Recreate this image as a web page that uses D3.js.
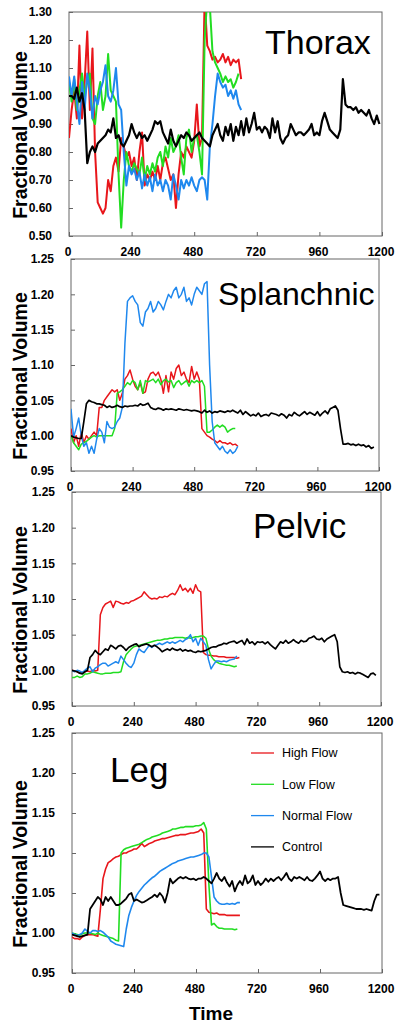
<!DOCTYPE html>
<html><head><meta charset="utf-8">
<script src="https://cdn.jsdelivr.net/npm/d3@7"></script>
<style>body{margin:0;background:#fff;} svg{display:block;}</style>
</head><body><svg id="c" width="400" height="1026"></svg>
<script>
// ---------- DATA ----------
const STEP = 10; // seconds between samples
const xTicks = [0, 240, 480, 720, 960, 1200];
const thoraxTicks = [0.50, 0.60, 0.70, 0.80, 0.90, 1.00, 1.10, 1.20, 1.30];
const regionTicks = [0.95, 1.00, 1.05, 1.10, 1.15, 1.20, 1.25];
const seriesNames = ["High Flow", "Low Flow", "Normal Flow", "Control"];
const seriesColors = ["#e8161b", "#22dd22", "#1f88ee", "#000000"];
const panelTitles = ["Thorax", "Splanchnic", "Pelvic", "Leg"];

const thoraxHigh = [0.85,0.95,1.02,0.92,1.18,0.92,1.05,1.23,0.95,1.17,0.80,0.62,0.60,0.58,0.60,0.70,0.66,0.75,0.78,0.73,
 0.85,0.82,0.78,0.80,0.75,0.78,0.70,0.80,0.87,0.68,0.72,0.70,0.73,0.70,0.75,0.70,0.76,0.78,0.74,0.70,
 0.72,0.60,0.72,0.80,0.78,0.82,0.80,0.78,0.84,0.97,0.82,0.85,1.35,1.18,1.16,1.13,1.14,1.12,1.13,1.15,
 1.12,1.14,1.11,1.13,1.12,1.13,1.06];
const thoraxLow = [1.05,0.98,1.06,0.95,1.02,1.08,1.00,1.05,1.08,0.92,0.90,1.00,1.05,0.95,1.00,1.15,1.02,1.00,0.98,0.72,
 0.53,0.70,0.80,0.75,0.73,0.76,0.74,0.72,0.78,0.70,0.75,0.72,0.76,0.73,0.78,0.80,0.75,0.82,0.78,0.85,
 0.80,0.82,0.86,0.78,0.72,0.85,0.88,0.80,0.85,0.86,0.80,0.72,1.20,1.35,1.32,1.16,1.12,1.10,1.08,1.05,
 1.07,1.05,1.06,1.03,1.05,1.08];
const thoraxNormal = [1.07,1.00,1.07,0.98,0.90,1.05,0.95,1.08,1.02,0.92,1.00,0.97,1.02,1.05,1.11,1.00,0.98,1.02,1.10,0.97,
 0.95,0.80,0.68,0.75,0.72,0.74,0.70,0.73,0.67,0.72,0.68,0.71,0.66,0.72,0.68,0.70,0.66,0.70,0.68,0.63,
 0.72,0.68,0.63,0.70,0.67,0.70,0.68,0.71,0.68,0.66,0.70,0.71,0.70,0.63,0.82,0.90,1.00,1.08,1.05,1.03,
 1.04,1.00,1.02,0.99,1.02,0.97,0.95];
const thoraxControl = [1.00,1.00,0.99,1.03,0.98,1.01,0.95,0.76,0.80,0.82,0.80,0.83,0.84,0.85,0.86,0.88,0.87,0.92,0.85,0.86,
 0.83,0.82,0.84,0.86,0.90,0.87,0.85,0.87,0.85,0.86,0.84,0.86,0.88,0.91,0.90,0.91,0.87,0.85,0.83,0.88,
 0.84,0.82,0.84,0.86,0.85,0.87,0.86,0.84,0.85,0.86,0.87,0.85,0.84,0.83,0.82,0.86,0.88,0.90,0.86,0.84,
 0.89,0.86,0.90,0.84,0.89,0.86,0.91,0.86,0.92,0.87,0.90,0.94,0.88,0.89,0.87,0.89,0.88,0.85,0.92,0.87,
 0.91,0.85,0.83,0.85,0.86,0.90,0.88,0.86,0.87,0.87,0.86,0.87,0.88,0.90,0.86,0.87,0.86,0.91,0.94,0.91,
 0.88,0.87,0.86,0.85,0.88,1.06,0.97,0.96,0.96,0.95,0.96,0.94,0.95,0.94,0.93,0.95,0.92,0.90,0.93,0.90];

const splanchHigh = [1.010,0.990,1.000,0.985,1.005,0.990,1.000,0.995,1.000,1.005,1.000,1.040,1.040,1.050,1.055,1.060,1.065,1.062,1.065,1.050,
 1.060,1.080,1.085,1.093,1.080,1.070,1.065,1.075,1.060,1.062,1.080,1.088,1.090,1.085,1.090,1.080,1.060,1.085,1.062,1.090,
 1.080,1.095,1.100,1.085,1.090,1.080,1.075,1.098,1.080,1.090,1.080,1.010,1.005,1.000,0.998,0.995,0.993,0.990,0.993,0.990,
 0.990,0.988,0.990,0.987,0.988,0.985];
const splanchLow = [1.000,0.990,0.985,0.980,0.988,0.990,0.992,0.995,0.998,1.000,0.998,1.000,1.000,1.000,1.000,1.000,1.000,1.010,1.060,1.062,
 1.065,1.070,1.075,1.072,1.078,1.075,1.065,1.078,1.060,1.078,1.076,1.078,1.080,1.075,1.080,1.072,1.078,1.080,1.076,1.078,
 1.068,1.075,1.078,1.072,1.075,1.078,1.070,1.078,1.075,1.078,1.075,1.078,1.070,1.005,1.005,1.008,1.012,1.015,1.012,1.015,
 1.012,1.005,1.008,1.010,1.010];
const splanchNormal = [1.038,0.998,1.010,1.025,1.000,0.985,0.990,0.975,0.985,0.975,0.995,1.010,1.005,0.990,1.020,1.012,1.010,1.012,1.020,1.025,
 1.040,1.130,1.190,1.195,1.198,1.190,1.185,1.160,1.155,1.175,1.180,1.190,1.175,1.180,1.190,1.185,1.178,1.190,1.200,1.195,
 1.205,1.210,1.195,1.200,1.210,1.190,1.195,1.185,1.200,1.210,1.205,1.200,1.215,1.218,1.100,1.020,0.990,0.985,0.980,0.985,
 0.978,0.975,0.980,0.975,0.978,0.985];
const splanchControl = [1.000,0.998,0.997,0.996,0.996,1.020,1.045,1.050,1.048,1.047,1.045,1.045,1.044,1.043,1.040,1.042,1.040,1.041,1.043,1.041,
 1.040,1.042,1.041,1.042,1.042,1.043,1.042,1.045,1.043,1.044,1.046,1.040,1.038,1.037,1.039,1.038,1.036,1.038,1.037,1.038,
 1.037,1.036,1.038,1.037,1.036,1.037,1.036,1.035,1.036,1.035,1.034,1.032,1.036,1.033,1.035,1.032,1.034,1.033,1.035,1.034,
 1.033,1.035,1.034,1.036,1.034,1.032,1.036,1.030,1.034,1.031,1.028,1.030,1.028,1.032,1.027,1.029,1.030,1.028,1.032,1.031,
 1.030,1.028,1.031,1.029,1.025,1.030,1.028,1.033,1.030,1.028,1.031,1.034,1.030,1.033,1.031,1.029,1.034,1.028,1.032,1.035,
 1.031,1.038,1.040,1.042,1.036,1.010,0.988,0.988,0.989,0.987,0.988,0.986,0.988,0.986,0.987,0.984,0.986,0.982,0.984];

const pelvicHigh = [1.000,0.999,0.998,0.996,0.997,0.998,0.999,0.998,1.000,0.999,1.000,1.078,1.088,1.093,1.095,1.097,1.088,1.097,1.096,1.094,
 1.093,1.095,1.094,1.097,1.098,1.100,1.102,1.104,1.110,1.106,1.102,1.100,1.101,1.100,1.103,1.102,1.104,1.103,1.106,1.108,
 1.106,1.112,1.120,1.112,1.115,1.110,1.115,1.108,1.120,1.112,1.110,1.025,1.022,1.021,1.021,1.020,1.020,1.019,1.019,1.019,
 1.018,1.018,1.018,1.018,1.017,1.018];
const pelvicLow = [0.990,0.990,0.992,0.990,0.991,0.995,0.995,0.996,0.998,0.997,0.996,0.995,0.995,0.996,0.996,0.996,0.997,0.997,0.997,0.998,
 1.012,1.022,1.026,1.030,1.033,1.034,1.035,1.036,1.037,1.038,1.039,1.040,1.041,1.042,1.042,1.043,1.044,1.044,1.045,1.045,
 1.046,1.046,1.046,1.046,1.045,1.046,1.045,1.046,1.047,1.047,1.048,1.048,1.045,1.030,1.020,1.015,1.012,1.010,1.009,1.008,
 1.007,1.007,1.006,1.005,1.006];
const pelvicNormal = [1.000,0.998,1.000,0.999,0.997,1.000,1.003,1.005,0.998,1.003,1.005,1.008,1.010,1.010,1.006,1.008,1.010,1.012,1.010,1.020,
 1.015,1.010,1.006,1.004,1.010,1.022,1.030,1.027,1.025,1.030,1.035,1.032,1.035,1.036,1.038,1.036,1.038,1.040,1.038,1.040,
 1.038,1.040,1.042,1.040,1.043,1.045,1.050,1.040,1.045,1.035,1.045,1.040,1.035,1.015,1.002,1.008,1.013,1.013,1.012,1.013,
 1.012,1.014,1.015,1.016,1.020];
const pelvicControl = [1.000,0.999,0.998,0.996,0.995,0.998,1.000,1.018,1.022,1.028,1.024,1.022,1.026,1.030,1.028,1.035,1.033,1.030,1.034,1.035,
 1.032,1.028,1.032,1.034,1.036,1.037,1.033,1.035,1.036,1.037,1.035,1.033,1.035,1.033,1.030,1.026,1.028,1.030,1.028,1.031,
 1.029,1.028,1.030,1.027,1.029,1.027,1.028,1.026,1.025,1.027,1.026,1.027,1.028,1.030,1.032,1.033,1.033,1.035,1.036,1.038,
 1.037,1.039,1.040,1.041,1.038,1.040,1.042,1.036,1.044,1.038,1.040,1.036,1.040,1.039,1.040,1.037,1.040,1.036,1.033,1.030,
 1.035,1.040,1.038,1.042,1.038,1.040,1.043,1.040,1.038,1.042,1.040,1.041,1.045,1.046,1.048,1.044,1.043,1.045,1.040,1.044,
 1.046,1.048,1.050,1.040,1.005,0.998,0.997,0.998,0.996,0.997,0.995,0.997,0.996,0.994,0.992,0.990,0.995,0.996,0.993];

const legHigh = [0.995,0.993,0.993,0.992,0.995,0.997,0.998,0.998,0.998,0.997,0.996,1.030,1.068,1.080,1.088,1.090,1.093,1.095,1.096,1.098,
 1.100,1.100,1.102,1.103,1.105,1.105,1.108,1.112,1.108,1.110,1.112,1.113,1.115,1.116,1.117,1.118,1.118,1.119,1.120,1.121,
 1.122,1.122,1.123,1.123,1.123,1.124,1.125,1.125,1.126,1.127,1.130,1.125,1.030,1.026,1.025,1.024,1.025,1.023,1.023,1.023,
 1.022,1.022,1.022,1.022,1.022,1.022];
const legLow = [1.000,0.999,0.998,0.997,0.999,1.000,1.000,1.000,0.999,0.998,1.000,0.998,0.997,0.996,0.995,0.994,0.993,0.991,0.990,1.100,
 1.104,1.106,1.107,1.108,1.109,1.110,1.111,1.113,1.115,1.117,1.118,1.120,1.121,1.122,1.123,1.125,1.126,1.127,1.128,1.130,
 1.130,1.131,1.132,1.132,1.133,1.133,1.133,1.133,1.134,1.134,1.135,1.138,1.130,1.060,1.010,1.012,1.008,1.006,1.006,1.005,
 1.005,1.005,1.005,1.004,1.005];
const legNormal = [1.000,0.998,0.997,0.998,1.000,1.005,1.002,1.000,1.003,1.003,1.002,1.003,1.001,0.998,0.995,0.990,0.988,0.986,0.985,0.984,
 0.983,1.005,1.022,1.032,1.040,1.047,1.052,1.056,1.060,1.063,1.066,1.069,1.071,1.074,1.077,1.079,1.081,1.083,1.085,1.087,
 1.088,1.090,1.091,1.092,1.093,1.094,1.095,1.095,1.096,1.097,1.098,1.100,1.100,1.095,1.070,1.045,1.040,1.037,1.036,1.036,
 1.037,1.036,1.037,1.036,1.038,1.038];
const legControl = [0.998,0.997,0.996,0.995,0.996,0.997,0.998,1.030,1.035,1.040,1.045,1.042,1.035,1.045,1.040,1.045,1.040,1.035,1.035,1.037,
 1.040,1.043,1.048,1.050,1.040,1.042,1.040,1.038,1.039,1.041,1.043,1.045,1.048,1.045,1.050,1.046,1.038,1.050,1.068,1.062,
 1.065,1.068,1.070,1.068,1.070,1.068,1.067,1.068,1.066,1.068,1.068,1.070,1.068,1.065,1.062,1.068,1.075,1.068,1.065,1.070,
 1.063,1.058,1.065,1.052,1.060,1.065,1.060,1.072,1.062,1.065,1.072,1.060,1.065,1.060,1.063,1.068,1.064,1.068,1.065,1.068,
 1.070,1.066,1.070,1.075,1.068,1.065,1.070,1.068,1.070,1.068,1.066,1.070,1.066,1.065,1.068,1.072,1.077,1.068,1.065,1.068,
 1.066,1.068,1.068,1.070,1.050,1.035,1.034,1.033,1.032,1.031,1.030,1.030,1.030,1.029,1.030,1.029,1.028,1.040,1.048,1.048];

// ---------- LAYOUT ----------
const FONT = "'Liberation Sans', Arial, Helvetica, sans-serif";
const panels = [
  {series:[thoraxHigh, thoraxLow, thoraxNormal, thoraxControl], yDomain:[0.5,1.3], yTicks:thoraxTicks,
   box:[69,382,12,236], title:{x:265,y:54,size:34}, lw:2},
  {series:[splanchHigh, splanchLow, splanchNormal, splanchControl], yDomain:[0.95,1.25], yTicks:regionTicks,
   box:[71,379,259,471], title:{x:218,y:305,size:32}, lw:1.5},
  {series:[pelvicHigh, pelvicLow, pelvicNormal, pelvicControl], yDomain:[0.95,1.25], yTicks:regionTicks,
   box:[72,381,492,706], title:{x:253,y:538,size:35}, lw:1.5},
  {series:[legHigh, legLow, legNormal, legControl], yDomain:[0.95,1.25], yTicks:regionTicks,
   box:[72,382,733,973], title:{x:110,y:782,size:35}, lw:1.6, legend:true}
];

const svg = d3.select("#c");
panels.forEach((p, pi) => {
  const [x0, x1, y0, y1] = p.box;
  const x = d3.scaleLinear().domain([0, 1200]).range([x0, x1]);
  const y = d3.scaleLinear().domain(p.yDomain).range([y1, y0]);
  const g = svg.append("g");

  const clipId = "clip" + pi;
  svg.append("clipPath").attr("id", clipId).append("rect")
    .attr("x", x0).attr("y", y0).attr("width", x1 - x0).attr("height", y1 - y0);

  // axes
  const xa = g.append("g").attr("transform", `translate(0,${y1})`)
    .call(d3.axisBottom(x).tickValues(xTicks).tickSizeInner(-4).tickSizeOuter(0).tickPadding(11).tickFormat(d3.format("d")));
  const ya = g.append("g").attr("transform", `translate(${x0},0)`)
    .call(d3.axisLeft(y).tickValues(p.yTicks).tickSizeInner(-4).tickSizeOuter(0).tickPadding(17).tickFormat(d3.format(".2f")));
  [xa, ya].forEach(a => {
    a.select(".domain").remove();
    a.selectAll("line").attr("stroke", "#666");
    a.selectAll("text").attr("font-family", FONT).attr("font-size", 12).attr("font-weight", "bold").attr("fill", "#000");
  });
  xa.selectAll("text").attr("dx", -1.5);

  // frame
  g.append("rect").attr("x", x0).attr("y", y0).attr("width", x1 - x0).attr("height", y1 - y0)
    .attr("fill", "none").attr("stroke", "#666").attr("stroke-width", 1);

  // lines
  const line = d3.line().x((d, i) => x(i * STEP)).y(d => y(d));
  const lg = g.append("g").attr("clip-path", `url(#${clipId})`);
  p.series.forEach((s, si) => {
    lg.append("path").datum(s).attr("d", line).attr("fill", "none")
      .attr("stroke", seriesColors[si]).attr("stroke-width", si === 3 ? p.lw + 0.2 : p.lw)
      .attr("stroke-linejoin", "round");
  });

  // title
  g.append("text").attr("x", p.title.x).attr("y", p.title.y).text(panelTitles[pi])
    .attr("font-family", FONT).attr("font-size", p.title.size).attr("fill", "#000");

  // y axis title
  g.append("text").attr("transform", `translate(27,${(y0 + y1) / 2 + 11}) rotate(-90)`)
    .attr("text-anchor", "middle").text("Fractional Volume")
    .attr("font-family", FONT).attr("font-size", 19.5).attr("font-weight", "bold");

  if (p.legend) {
    seriesNames.forEach((n, i) => {
      const ly = 753 + i * 31.3;
      g.append("line").attr("x1", 251).attr("x2", 274).attr("y1", ly).attr("y2", ly)
        .attr("stroke", seriesColors[i]).attr("stroke-width", 1.3);
      g.append("text").attr("x", 282).attr("y", ly).attr("dy", "0.35em").text(n)
        .attr("font-family", FONT).attr("font-size", 12.5).attr("fill", "#000");
    });
  }
});

svg.append("text").attr("x", 211).attr("y", 1020).attr("text-anchor", "middle").text("Time")
  .attr("font-family", FONT).attr("font-size", 19).attr("font-weight", "bold");
</script></body></html>
